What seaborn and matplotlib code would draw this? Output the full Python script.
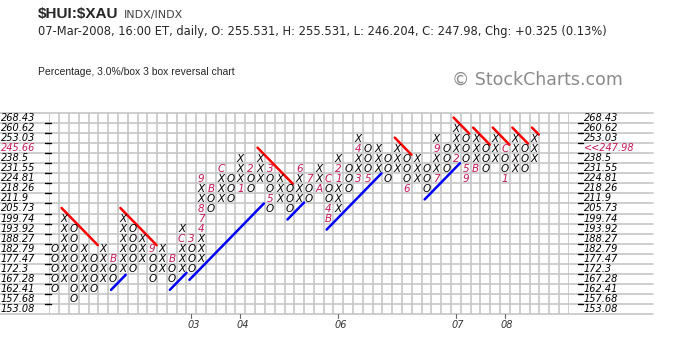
import numpy as np
import pandas as pd
import seaborn as sns
import matplotlib.pyplot as plt

# box scale of the chart (top to bottom)
box_levels = [268.43, 260.62, 253.03, 245.66, 238.5, 231.55, 224.81, 218.26, 211.9, 205.73,
              199.74, 193.92, 188.27, 182.79, 177.47, 172.3, 167.28, 162.41, 157.68, 153.08]

# high / low box of each column; column 0 is an O column, then X and O alternate
col_high = [182.79, 199.74, 193.92, 182.79, 177.47, 182.79, 177.47, 199.74, 193.92, 188.27,
            182.79, 182.79, 177.47, 193.92, 188.27, 224.81, 218.26, 231.55, 224.81, 238.5,
            231.55, 238.5, 231.55, 224.81, 218.26, 231.55, 224.81, 231.55, 224.81, 238.5,
            231.55, 253.03, 245.66, 245.66, 238.5, 245.66, 238.5, 238.5, 231.55, 253.03,
            245.66, 260.62, 253.03, 253.03, 245.66, 253.03, 245.66, 253.03, 245.66, 253.03]
col_low = [162.41, 167.28, 157.68, 162.41, 162.41, 167.28, 167.28, 172.3, 172.3, 177.47,
           167.28, 172.3, 167.28, 172.3, 172.3, 177.47, 205.73, 211.9, 211.9, 218.26,
           218.26, 224.81, 205.73, 211.9, 205.73, 211.9, 211.9, 218.26, 199.74, 205.73,
           218.26, 224.81, 224.81, 231.55, 224.81, 231.55, 218.26, 224.81, 218.26, 224.81,
           231.55, 238.5, 224.81, 231.55, 231.55, 238.5, 224.81, 231.55, 231.55, 238.5]

# month markers that replace a box (column, box, month code)
month_col = [6, 10, 12, 13, 14, 15, 15, 15, 15, 16, 17, 19, 20, 22, 22, 25, 26, 27, 28, 28,
             28, 29, 29, 31, 31, 32, 36, 39, 39, 41, 42, 42, 43, 46, 46]
month_box = [177.47, 182.79, 177.47, 188.27, 188.27, 193.92, 199.74, 205.73, 224.81, 218.26,
             231.55, 218.26, 231.55, 231.55, 211.9, 231.55, 224.81, 218.26, 224.81, 205.73,
             199.74, 224.81, 231.55, 224.81, 245.66, 224.81, 218.26, 224.81, 245.66, 238.5,
             231.55, 224.81, 231.55, 245.66, 224.81]
month_txt = ['B', '9', 'B', 'C', '3', '4', '7', '8', '9', 'B', 'C', '1', '2', '3', '5', '6',
             '7', 'A', 'C', '4', 'B', '1', '2', '3', '4', '5', '6', '7', '9', '2', '5', '9',
             'B', 'C', '1']

year_col = [14, 19, 29, 41, 46]
year_txt = ['03', '04', '06', '07', '08']

# trend lines: starting column, starting box, length in columns
red_col = [1, 7, 21, 35, 41, 43, 45, 47, 49]
red_box = [205.73, 205.73, 245.66, 253.03, 268.43, 260.62, 260.62, 260.62, 260.62]
red_len = [3.7, 3.7, 3.6, 1.7, 1.6, 1.7, 1.7, 1.6, 0.7]
blue_col = [6, 12, 14, 24, 28, 38]
blue_box = [162.41, 162.41, 167.28, 199.74, 193.92, 211.9]
blue_len = [1.5, 1.7, 7.6, 1.7, 5.6, 3.6]

last_close = 247.98
last_box = 245.66

crimson = '#c8175a'
row_of = {v: i for i, v in enumerate(box_levels)}

# build the box table
rows = []
for c, (hi, lo) in enumerate(zip(col_high, col_low)):
    mark = 'O' if c % 2 == 0 else 'X'
    for r in range(row_of[hi], row_of[lo] + 1):
        rows.append({'col': c, 'row': r, 'mark': mark})
boxes = pd.DataFrame(rows)
months = pd.DataFrame({'col': month_col, 'row': [row_of[b] for b in month_box], 'txt': month_txt})
boxes = boxes.merge(months, on=['col', 'row'], how='left')

sns.set_style('white')
plt.rcParams['font.family'] = ['DejaVu Sans']

fig = plt.figure(figsize=(6.8, 3.53), dpi=100)
n_cols = 53
ax = fig.add_axes([49.3 / 680, 39 / 353, 519.4 / 680, 201 / 353])
ax.set_xlim(-0.5, n_cols - 0.5)
ax.set_ylim(len(box_levels) - 0.5, -0.5)
for s in ax.spines.values():
    s.set_visible(False)
ax.set_xticks([])
ax.set_yticks([])

grid_c = '#c6c6c6'
for x in np.arange(-0.5, n_cols, 1):
    ax.axvline(x, color=grid_c, lw=1.2, zorder=0)
ytr = ax.get_yaxis_transform()
for y in np.arange(-0.5, len(box_levels), 1):
    ax.plot([-0.095, 1.162], [y, y], color=grid_c, lw=1.2, transform=ytr, clip_on=False, zorder=0)

# small ticks on both sides
for y in np.arange(0.5, len(box_levels) - 1, 1):
    ax.plot([-0.008, 0.004], [y, y], color='black', lw=1.0, transform=ytr, clip_on=False)
    ax.plot([1.018, 1.028], [y, y], color='black', lw=1.0, transform=ytr, clip_on=False)

# price labels
for r, v in enumerate(box_levels):
    col = crimson if v == last_box else 'black'
    ax.text(-0.093, r, f'{v:g}', transform=ytr, ha='left', va='center', fontsize=7,
            fontstyle='italic', color=col, clip_on=False)
    right = f'<<{last_close:g}' if v == last_box else f'{v:g}'
    ax.text(1.029, r, right, transform=ytr, ha='left', va='center', fontsize=7,
            fontstyle='italic', color=col, clip_on=False)

# boxes
for _, b in boxes.iterrows():
    if isinstance(b['txt'], str):
        ax.text(b['col'], b['row'] + 0.05, b['txt'], ha='center', va='center', fontsize=7.5,
                fontstyle='italic', color=crimson)
    else:
        ax.text(b['col'], b['row'] + 0.05, b['mark'], ha='center', va='center', fontsize=7.5,
                fontstyle='italic', color='black')

# trend lines
for c, b, n in zip(red_col, red_box, red_len):
    x0, y0 = c - 0.25, row_of[b] - 0.05
    sns.lineplot(x=[x0, x0 + n], y=[y0, y0 + n], ax=ax, color='#ff0000', lw=1.8)
for c, b, n in zip(blue_col, blue_box, blue_len):
    x0, y0 = c - 0.2, row_of[b] + 0.1
    sns.lineplot(x=[x0, x0 + n], y=[y0, y0 - n], ax=ax, color='#0000ff', lw=1.8)

# year marks under the grid
for c, t in zip(year_col, year_txt):
    ax.plot([c, c], [len(box_levels) - 0.5, len(box_levels) - 0.1], color='#666666', lw=0.8,
            clip_on=False)
    ax.text(c + 0.2, len(box_levels) + 0.6, t, ha='center', va='center', fontsize=7,
            fontstyle='italic', color='#333333', clip_on=False)

ax.set_xlabel('')
ax.set_ylabel('')

# header
fig.text(38 / 680, 1 - 14 / 353, '\\$HUI:\\$XAU', fontsize=11, fontweight='bold', va='center',
         family=['Liberation Sans Narrow', 'Liberation Sans'])
fig.text(124 / 680, 1 - 15 / 353, 'INDX/INDX', fontsize=8, va='center', color='#444444',
         family=['DejaVu Sans'])
fig.text(38 / 680, 1 - 31 / 353,
         '07-Mar-2008, 16:00 ET, daily, O: 255.531, H: 255.531, L: 246.204, C: 247.98, '
         'Chg: +0.325 (0.13%)', fontsize=8.3, va='center', family=['DejaVu Sans'])
fig.text(38 / 680, 1 - 72 / 353, 'Percentage, 3.0%/box 3 box reversal chart', fontsize=7.5,
         va='center', family=['Liberation Sans'])
fig.text(452 / 680, 1 - 80 / 353, '\u00a9 StockCharts.com', fontsize=12.5, va='center',
         color='#8a8a8a', family=['DejaVu Sans'])

fig.savefig('out.png', dpi=100)
